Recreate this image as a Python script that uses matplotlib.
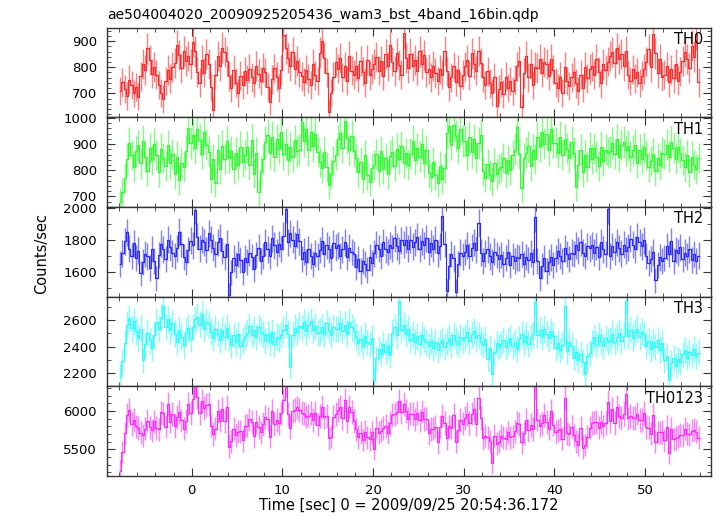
import numpy as np
import matplotlib.pyplot as plt
from matplotlib.ticker import MultipleLocator

plt.rcParams['font.family'] = ['DejaVu Sans']

TITLE = 'ae504004020_20090925205436_wam3_bst_4band_16bin.qdp'
XLABEL = 'Time [sec] 0 = 2009/09/25 20:54:36.172'
BIN = 0.25      # sec
T_START = -8.0

# count rates (counts/sec), one row = 2 sec (8 bins)
th0 = [
    708, 742, 716, 690, 752, 731, 700, 724,
    688, 765, 812, 790, 872, 828, 776, 802,
    771, 733, 702, 679, 748, 790, 756, 802,
    818, 884, 846, 797, 861, 823, 844, 812,
    898, 861, 782, 741, 826, 779, 850, 812,
    726, 638, 771, 842, 806, 874, 858, 824,
    765, 722, 790, 741, 702, 768, 733, 784,
    752, 795, 762, 740, 806, 775, 748, 797,
    781, 726, 668, 754, 796, 763, 720, 789,
    924, 872, 836, 805, 858, 792, 824, 781,
    765, 744, 791, 756, 731, 812, 770, 748,
    856, 901, 837, 779, 628, 702, 763, 822,
    795, 836, 761, 803, 748, 842, 787, 772,
    806, 759, 824, 783, 741, 828, 769, 794,
    812, 838, 787, 824, 768, 851, 803, 886,
    822, 786, 853, 809, 772, 931, 834, 798,
    852, 803, 829, 787, 861, 811, 846, 781,
    793, 762, 805, 778, 748, 792, 771, 862,
    784, 724, 762, 803, 743, 791, 729, 772,
    803, 829, 768, 853, 812, 787, 862, 818,
    762, 731, 784, 738, 703, 761, 652, 718,
    742, 698, 763, 721, 748, 709, 752, 803,
    823, 648, 778, 842, 761, 812, 733, 801,
    798, 832, 779, 821, 812, 768, 833, 791,
    741, 722, 763, 701, 802, 748, 729, 762,
    783, 738, 708, 772, 719, 801, 758, 793,
    803, 772, 831, 782, 738, 813, 789, 822,
    842, 858, 818, 872, 832, 851, 803, 861,
    772, 748, 792, 758, 781, 739, 768, 793,
    822, 868, 801, 928, 853, 778, 832, 763,
    771, 803, 742, 792, 758, 812, 749, 783,
    823, 858, 832, 798, 882, 841, 928, 742,
]

th1 = [
    680, 716, 772, 845, 905, 858, 812, 872,
    896, 826, 912, 851, 798, 884, 838, 902,
    858, 792, 883, 846, 817, 895, 826, 862,
    784, 852, 762, 828, 812, 874, 962, 905,
    936, 885, 958, 917, 862, 946, 898, 871,
    768, 842, 752, 878, 806, 894, 843, 912,
    846, 872, 806, 868, 821, 889, 832, 858,
    889, 822, 916, 787, 868, 718, 796, 842,
    908, 936, 865, 929, 851, 918, 882, 948,
    861, 902, 838, 888, 852, 914, 872, 879,
    986, 912, 958, 876, 948, 893, 938, 870,
    832, 808, 871, 812, 744, 786, 836, 858,
    918, 944, 887, 988, 924, 876, 931, 872,
    848, 792, 831, 768, 858, 782, 755, 809,
    821, 862, 798, 872, 806, 848, 784, 856,
    871, 818, 882, 842, 892, 828, 866, 822,
    864, 912, 838, 884, 852, 902, 828, 876,
    788, 774, 832, 782, 752, 818, 768, 809,
    942, 968, 898, 972, 932, 886, 958, 912,
    911, 858, 928, 869, 918, 846, 906, 934,
    796, 772, 823, 782, 758, 828, 786, 806,
    812, 848, 788, 838, 802, 858, 878, 966,
    862, 734, 848, 868, 892, 818, 878, 842,
    928, 892, 948, 902, 938, 876, 958, 906,
    906, 868, 928, 858, 918, 882, 848, 909,
    868, 738, 822, 878, 792, 858, 812, 886,
    842, 884, 852, 818, 889, 836, 878, 868,
    872, 904, 862, 918, 852, 898, 908, 876,
    894, 852, 876, 898, 828, 878, 842, 888,
    858, 812, 836, 864, 798, 848, 822, 868,
    862, 898, 852, 908, 886, 842, 888, 866,
    838, 812, 858, 792, 852, 822, 806, 848,
]

th2 = [
    1652, 1718, 1792, 1848, 1746, 1702, 1781, 1688,
    1734, 1592, 1661, 1712, 1698, 1628, 1744, 1672,
    1562, 1706, 1778, 1742, 1682, 1802, 1756, 1718,
    1702, 1748, 1852, 1776, 1694, 1662, 1738, 1796,
    1768, 1988, 1822, 1746, 1804, 1786, 1738, 1842,
    1802, 1752, 1712, 1786, 1816, 1732, 1694, 1778,
    1456, 1598, 1686, 1642, 1712, 1674, 1602, 1688,
    1662, 1722, 1694, 1618, 1706, 1752, 1668, 1702,
    1788, 1742, 1702, 1812, 1768, 1724, 1776, 1744,
    1826, 1996, 1788, 1842, 1804, 1766, 1838, 1792,
    1682, 1728, 1664, 1742, 1702, 1652, 1718, 1698,
    1738, 1796, 1712, 1768, 1742, 1688, 1782, 1752,
    1768, 1702, 1742, 1786, 1694, 1752, 1726, 1712,
    1632, 1682, 1606, 1668, 1648, 1612, 1692, 1658,
    1718, 1772, 1746, 1702, 1788, 1742, 1726, 1768,
    1748, 1812, 1762, 1734, 1798, 1772, 1802, 1746,
    1802, 1758, 1788, 1822, 1746, 1794, 1768, 1812,
    1728, 1782, 1746, 1802, 1718, 1762, 1948, 1776,
    1482, 1638, 1712, 1686, 1478, 1652, 1722, 1698,
    1726, 1768, 1702, 1752, 1784, 1738, 1908, 1722,
    1672, 1718, 1742, 1698, 1662, 1728, 1708, 1684,
    1708, 1652, 1688, 1726, 1644, 1702, 1672, 1692,
    1688, 1712, 1652, 1694, 1676, 1718, 1664, 1942,
    1672, 1562, 1638, 1686, 1608, 1662, 1692, 1644,
    1686, 1732, 1702, 1668, 1748, 1712, 1682, 1722,
    1712, 1768, 1736, 1788, 1722, 1702, 1762, 1748,
    1768, 1722, 1758, 1696, 1786, 1742, 1712, 1992,
    1702, 1762, 1728, 1788, 1748, 1716, 1772, 1734,
    1756, 1808, 1772, 1742, 1822, 1788, 1762, 1798,
    1702, 1658, 1682, 1724, 1548, 1646, 1692, 1668,
    1688, 1762, 1712, 1792, 1668, 1738, 1722, 1756,
    1682, 1722, 1698, 1742, 1676, 1712, 1668, 1704,
]

th3 = [
    2175, 2290, 2430, 2565, 2612, 2538, 2592, 2516,
    2462, 2534, 2296, 2418, 2506, 2448, 2392, 2488,
    2586, 2532, 2618, 2702, 2548, 2604, 2522, 2576,
    2498, 2436, 2528, 2476, 2404, 2512, 2542, 2458,
    2548, 2606, 2622, 2564, 2642, 2532, 2588, 2568,
    2512, 2468, 2536, 2494, 2448, 2528, 2476, 2542,
    2468, 2412, 2486, 2432, 2496, 2404, 2452, 2478,
    2506, 2552, 2488, 2528, 2474, 2546, 2512, 2492,
    2446, 2494, 2432, 2508, 2418, 2476, 2462, 2488,
    2528, 2566, 2498, 2248, 2486, 2542, 2512, 2558,
    2538, 2582, 2514, 2566, 2592, 2526, 2552, 2506,
    2512, 2548, 2496, 2574, 2528, 2486, 2546, 2532,
    2532, 2576, 2518, 2564, 2498, 2588, 2544, 2516,
    2476, 2428, 2456, 2408, 2482, 2436, 2418, 2462,
    2152, 2312, 2386, 2346, 2418, 2362, 2402, 2336,
    2506, 2548, 2484, 2742, 2526, 2562, 2498, 2536,
    2448, 2492, 2436, 2478, 2418, 2486, 2456, 2432,
    2402, 2446, 2388, 2432, 2376, 2424, 2452, 2398,
    2438, 2468, 2412, 2486, 2446, 2418, 2472, 2452,
    2472, 2508, 2446, 2492, 2516, 2462, 2488, 2438,
    2412, 2456, 2306, 2388, 2196, 2362, 2428, 2394,
    2418, 2452, 2396, 2438, 2466, 2404, 2432, 2386,
    2458, 2496, 2432, 2482, 2418, 2468, 2492, 2736,
    2488, 2524, 2472, 2536, 2498, 2462, 2518, 2482,
    2392, 2428, 2376, 2414, 2706, 2366, 2438, 2402,
    2318, 2362, 2296, 2342, 2286, 2196, 2332, 2356,
    2428, 2472, 2416, 2486, 2442, 2408, 2466, 2438,
    2452, 2498, 2438, 2476, 2504, 2446, 2482, 2746,
    2482, 2526, 2468, 2508, 2536, 2476, 2512, 2494,
    2408, 2446, 2386, 2432, 2398, 2452, 2376, 2428,
    2296, 2332, 2152, 2278, 2318, 2256, 2304, 2286,
    2342, 2376, 2318, 2362, 2334, 2382, 2326, 2356,
]

# TH0123 is the sum of the four bands
th0123 = np.sum([th0, th1, th2, th3], axis=0)

time = T_START + BIN * (np.arange(len(th0)) + 0.5)

# name, rates, colour, ylim, major step, minor step
panels = [
    ('TH0', th0, '#ff2a2a', (609, 952), 100, 20),
    ('TH1', th1, '#2aff2a', (660, 1003), 100, 20),
    ('TH2', th2, '#2a2aff', (1447, 2008), 200, 100),
    ('TH3', th3, '#2affff', (2102, 2776), 200, 100),
    ('TH0123', th0123, '#ff2aff', (5152, 6322), 500, 100),
]

fig, axes = plt.subplots(5, 1, sharex=True, figsize=(7.17, 5.16), dpi=100)
fig.subplots_adjust(left=0.149, right=0.9916, top=0.9467, bottom=0.0775, hspace=0)

for ax, (name, rates, color, ylim, major, minor) in zip(axes, panels):
    rates = np.asarray(rates, dtype=float)
    err = np.sqrt(rates / BIN)  # poisson error of the binned counts
    eb = ax.errorbar(time, rates, xerr=BIN / 2, yerr=err, fmt='none',
                     ecolor=color, elinewidth=1.0, capsize=0)
    for coll in eb[2]:
        coll.set_alpha(0.6)
    # qdp "line step": connect the bins
    ax.step(time, rates, where='mid', color=color, lw=0.8)
    ax.set_ylim(*ylim)
    ax.yaxis.set_major_locator(MultipleLocator(major))
    ax.yaxis.set_minor_locator(MultipleLocator(minor))
    ax.text(0.987, 0.95, name, transform=ax.transAxes, ha='right', va='top',
            fontsize=10.5)
    ax.tick_params(which='both', direction='in', top=True, right=True,
                   labelsize=9.5, color='#333333')
    ax.tick_params(axis='y', which='major', pad=7)
    ax.tick_params(axis='x', which='major', pad=6)
    ax.tick_params(which='major', length=6)
    ax.tick_params(which='minor', length=3)
    for sp in ax.spines.values():
        sp.set_color('#333333')
        sp.set_linewidth(1.0)

axes[-1].set_xlim(-9.35, 57.25)
axes[-1].xaxis.set_major_locator(MultipleLocator(10))
axes[-1].xaxis.set_minor_locator(MultipleLocator(2))

fig.text(0.149, 0.971, TITLE, ha='left', va='center', fontsize=10)
fig.text(0.058, 0.509, 'Counts/sec', rotation=90, ha='center', va='center',
         fontsize=10.5)
fig.text(0.5705, 0.0203, XLABEL, ha='center', va='center', fontsize=10.5)

fig.savefig('out.png', dpi=100)
